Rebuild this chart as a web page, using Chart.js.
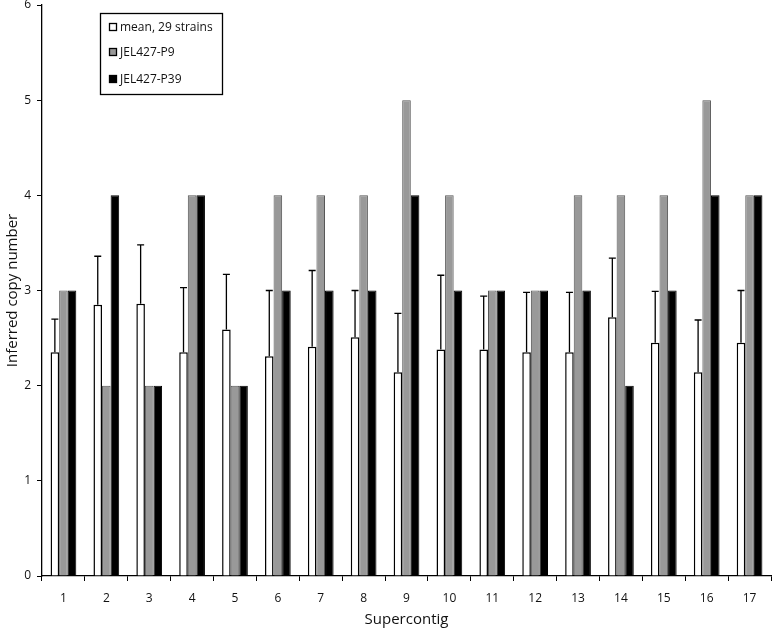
<!DOCTYPE html>
<html>
<head>
<meta charset="utf-8">
<script src="https://cdn.jsdelivr.net/npm/chart.js@4"></script>
<style>
  html,body{margin:0;padding:0;background:#fff;}
  #wrap{width:772px;height:629px;}
</style>
</head>
<body>
<div id="wrap"><canvas id="c" width="772" height="629"></canvas></div>
<script>
const contigs=['1','2','3','4','5','6','7','8','9','10','11','12','13','14','15','16','17'];
const meanCopy=[2.35,2.85,2.86,2.35,2.59,2.31,2.41,2.51,2.14,2.38,2.38,2.35,2.35,2.72,2.45,2.14,2.45];
const meanSd=[0.35,0.51,0.62,0.68,0.58,0.69,0.80,0.49,0.62,0.78,0.56,0.63,0.63,0.62,0.54,0.55,0.55];
const p9=[3,2,2,4,2,4,4,4,5,4,3,3,4,4,4,5,4];
const p39=[3,4,2,4,2,3,3,3,4,3,3,3,3,2,3,4,4];
const yTicks=[0,1,2,3,4,5,6];

const FONT='"Open Sans", "Liberation Sans", sans-serif';

// upper error bars on the mean series
const errBars={
  id:'errBars',
  afterDatasetsDraw(chart){
    const ctx=chart.ctx, y=chart.scales.y, meta=chart.getDatasetMeta(0);
    ctx.save(); ctx.strokeStyle='#000'; ctx.lineWidth=1.3;
    meta.data.forEach((bar,i)=>{
      const top=y.getPixelForValue(meanCopy[i]+meanSd[i]);
      ctx.beginPath();
      ctx.moveTo(bar.x,bar.y); ctx.lineTo(bar.x,top);
      ctx.moveTo(bar.x-3.5,top); ctx.lineTo(bar.x+3.5,top);
      ctx.stroke();
    });
    ctx.restore();
  }
};

// boxed legend inside the plot, top left
const boxLegend={
  id:'boxLegend',
  afterDraw(chart){
    const ctx=chart.ctx;
    ctx.save();
    ctx.strokeStyle='#000'; ctx.lineWidth=1.3;
    ctx.strokeRect(100.5,13.5,122,81);
    ctx.font='12px '+FONT; ctx.textBaseline='middle'; ctx.fillStyle='#111';
    const rows=[27,52,79];
    chart.data.datasets.forEach((ds,i)=>{
      const yy=rows[i];
      ctx.fillStyle=ds.backgroundColor;
      ctx.fillRect(109,yy-4,8,8);
      ctx.strokeStyle='#000'; ctx.lineWidth=1.3;
      ctx.strokeRect(109.5,yy-3.5,7,7);
      ctx.fillStyle='#111';
      ctx.fillText(ds.label,120,yy+1);
    });
    ctx.restore();
  }
};

new Chart(document.getElementById('c'),{
  type:'bar',
  data:{
    labels:contigs,
    datasets:[
      {label:'mean, 29 strains',data:meanCopy,backgroundColor:'#ffffff',borderColor:'#000',borderWidth:1.5},
      {label:'JEL427-P9',data:p9,backgroundColor:'#999999',borderColor:'#555',borderWidth:1},
      {label:'JEL427-P39',data:p39,backgroundColor:'#000000',borderColor:'#000',borderWidth:1}
    ]
  },
  options:{
    responsive:false,
    animation:false,
    devicePixelRatio:1,
    layout:{padding:{top:5,right:1,left:0,bottom:0}},
    datasets:{bar:{categoryPercentage:0.6,barPercentage:1.0}},
    plugins:{legend:{display:false},tooltip:{enabled:false}},
    scales:{
      x:{
        grid:{display:true,drawOnChartArea:false,offset:true,color:'#000',tickLength:5,lineWidth:1},
        border:{color:'#000',width:1.3},
        ticks:{color:'#111',font:{family:FONT,size:12},padding:10},
        title:{display:true,text:'Supercontig',color:'#111',font:{family:FONT,size:15},padding:{top:4,bottom:0}},
        afterFit(s){s.height=53;}
      },
      y:{
        min:0,max:6,
        afterBuildTicks(s){s.ticks=yTicks.map(v=>({value:v}));},
        grid:{display:true,drawOnChartArea:false,color:'#000',tickLength:5,lineWidth:1},
        border:{color:'#000',width:1.3},
        ticks:{color:'#111',font:{family:FONT,size:12},padding:6},
        title:{display:true,text:'Inferred copy number',color:'#111',font:{family:FONT,size:15},padding:{bottom:0}},
        afterFit(s){s.width=42;s.paddingTop=0;s.paddingBottom=0;}
      }
    }
  },
  plugins:[errBars,boxLegend]
});
</script>
</body>
</html>
